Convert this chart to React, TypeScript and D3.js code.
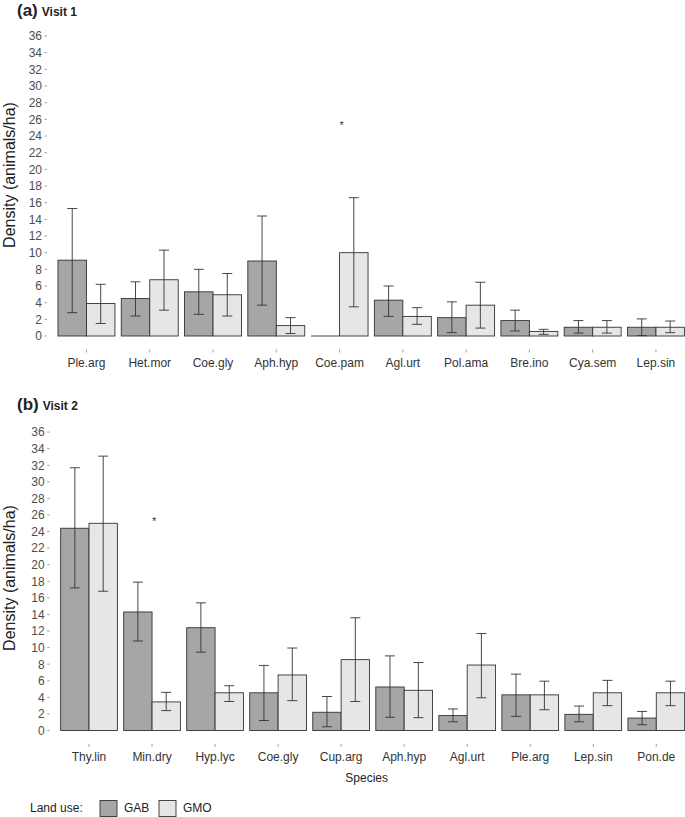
import React from "react";
import * as d3 from "d3";

const landUse = ["GAB", "GMO"];
const fills = ["#a6a6a6", "#e6e6e6"];
const yTicks = [0, 2, 4, 6, 8, 10, 12, 14, 16, 18, 20, 22, 24, 26, 28, 30, 32, 34, 36];

// Visit 1
const cats1 = ["Ple.arg", "Het.mor", "Coe.gly", "Aph.hyp", "Coe.pam", "Agl.urt", "Pol.ama", "Bre.ino", "Cya.sem", "Lep.sin"];
const gab1 = [9.1, 4.5, 5.3, 9.0, 0, 4.3, 2.2, 1.85, 1.05, 1.05];
const gab1Hi = [15.3, 6.5, 8.0, 14.4, null, 6.0, 4.1, 3.1, 1.85, 2.05];
const gab1Lo = [2.8, 2.4, 2.6, 3.7, null, 2.35, 0.4, 0.6, 0.35, 0.05];
const gmo1 = [3.9, 6.75, 4.95, 1.25, 10.0, 2.35, 3.7, 0.55, 1.05, 1.05];
const gmo1Hi = [6.2, 10.3, 7.5, 2.2, 16.6, 3.4, 6.45, 0.8, 1.85, 1.8];
const gmo1Lo = [1.5, 3.1, 2.4, 0.3, 3.5, 1.4, 0.95, 0.2, 0.35, 0.4];
const star1 = [{ cat: "Coe.pam", value: 25.6 }];

// Visit 2
const cats2 = ["Thy.lin", "Min.dry", "Hyp.lyc", "Coe.gly", "Cup.arg", "Aph.hyp", "Agl.urt", "Ple.arg", "Lep.sin", "Pon.de"];
const gab2 = [24.4, 14.3, 12.4, 4.55, 2.2, 5.25, 1.8, 4.3, 1.95, 1.5];
const gab2Hi = [31.7, 17.9, 15.4, 7.85, 4.1, 9.0, 2.6, 6.8, 2.95, 2.3];
const gab2Lo = [17.2, 10.8, 9.45, 1.2, 0.45, 1.6, 1.05, 1.7, 1.05, 0.7];
const gmo2 = [25.0, 3.45, 4.55, 6.7, 8.55, 4.85, 7.9, 4.3, 4.55, 4.55];
const gmo2Hi = [33.1, 4.6, 5.4, 9.95, 13.6, 8.2, 11.7, 5.95, 6.05, 5.95];
const gmo2Lo = [16.8, 2.4, 3.5, 3.6, 3.5, 1.55, 3.95, 2.5, 3.0, 3.0];
const star2 = [{ cat: "Min.dry", value: 25.5 }];

type PanelProps = {
  cats: string[];
  vals: number[][];
  his: (number | null)[][];
  los: (number | null)[][];
  stars: { cat: string; value: number }[];
  left: number;
  right: number;
  y0: number;
  y36: number;
  tag: string;
  sub: string;
  tagY: number;
  titleY: number;
  xTitle?: string;
};

function Panel(p: PanelProps) {
  const x = d3.scaleBand<string>().domain(p.cats).range([p.left, p.right]).paddingInner(0.1).paddingOuter(0.15);
  const sub = d3.scaleBand<string>().domain(landUse).range([0, x.bandwidth()]);
  const y = d3.scaleLinear().domain([0, 36]).range([p.y0, p.y36]);
  const bottom = y(-1.8);
  const bw = sub.bandwidth();
  const cap = 5;
  const axisX = p.left - 0.5;
  return (
    <g>
      <text x={17} y={p.tagY} fontFamily="Liberation Sans, Arial, sans-serif" fontWeight="bold" fontSize={17} fill="#222">
        {p.tag}
        <tspan fontSize={12} dx={4}>{p.sub}</tspan>
      </text>
      <text
        transform={`translate(15,${p.titleY}) rotate(-90)`}
        textAnchor="middle"
        fontFamily="Liberation Sans, Arial, sans-serif"
        fontSize={16}
        fill="#222"
      >
        Density (animals/ha)
      </text>
      {yTicks.map((t) => (
        <g key={t}>
          <line x1={axisX - 3.5} x2={axisX - 1} y1={y(t)} y2={y(t)} stroke="#888" strokeWidth={0.8} />
          <text x={axisX - 6} y={y(t)} dy="0.36em" textAnchor="end" fontFamily="Liberation Sans, Arial, sans-serif" fontSize={12} fill="#4d4d4d">
            {t}
          </text>
        </g>
      ))}
      {p.cats.map((c, i) => {
        const cx = (x(c) as number) + x.bandwidth() / 2;
        return (
          <g key={c}>
            <line x1={cx} x2={cx} y1={bottom - 1.5} y2={bottom + 1.5} stroke="#888" strokeWidth={0.8} />
            <text x={cx} y={bottom + 16} textAnchor="middle" fontFamily="Liberation Sans, Arial, sans-serif" fontSize={12} fill="#333">
              {c}
            </text>
            {landUse.map((lu, k) => {
              const bx = (x(c) as number) + (sub(lu) as number);
              const v = p.vals[k][i];
              const top = y(v);
              const hi = p.his[k][i];
              const lo = p.los[k][i];
              const mx = bx + bw / 2;
              return (
                <g key={lu}>
                  {v > 0 ? (
                    <rect x={bx} y={top} width={bw} height={y(0) - top} fill={fills[k]} stroke="#333" strokeWidth={0.9} />
                  ) : (
                    <line x1={bx} x2={bx + bw} y1={y(0)} y2={y(0)} stroke="#333" strokeWidth={0.9} />
                  )}
                  {hi !== null && lo !== null ? (
                    <g stroke="#333" strokeWidth={0.9}>
                      <line x1={mx} x2={mx} y1={y(hi)} y2={y(lo)} />
                      <line x1={mx - cap} x2={mx + cap} y1={y(hi)} y2={y(hi)} />
                      <line x1={mx - cap} x2={mx + cap} y1={y(lo)} y2={y(lo)} />
                    </g>
                  ) : null}
                </g>
              );
            })}
          </g>
        );
      })}
      {p.stars.map((s) => {
        const cx = (x(s.cat) as number) + x.bandwidth() / 2 + 2;
        return (
          <text key={s.cat} x={cx} y={y(s.value) + 6} textAnchor="middle" fontFamily="Liberation Sans, Arial, sans-serif" fontSize={11} fill="#333">
            *
          </text>
        );
      })}
      {p.xTitle ? (
        <text x={(p.left + p.right) / 2 - 6} y={bottom + 37} textAnchor="middle" fontFamily="Liberation Sans, Arial, sans-serif" fontSize={12} fill="#222">
          {p.xTitle}
        </text>
      ) : null}
    </g>
  );
}

export default function App() {
  return (
    <svg width={685} height={817} style={{ position: "absolute", left: 0, top: 0, background: "#fff" }}>
      <rect width={685} height={817} fill="#fff" />
      <Panel
        cats={cats1}
        vals={[gab1, gmo1]}
        his={[gab1Hi, gmo1Hi]}
        los={[gab1Lo, gmo1Lo]}
        stars={star1}
        left={48.5}
        right={693.9}
        y0={336}
        y36={36}
        tag="(a)"
        sub="Visit 1"
        tagY={16}
        titleY={175}
      />
      <Panel
        cats={cats2}
        vals={[gab2, gmo2]}
        his={[gab2Hi, gmo2Hi]}
        los={[gab2Lo, gmo2Lo]}
        stars={star2}
        left={51.2}
        right={694.1}
        y0={730.5}
        y36={432.1}
        tag="(b)"
        sub="Visit 2"
        tagY={410}
        titleY={578}
        xTitle="Species"
      />
      <g fontFamily="Liberation Sans, Arial, sans-serif" fontSize={12} fill="#222">
        <text x={30} y={812}>Land use:</text>
        {landUse.map((lu, k) => {
          const bx = [100, 159][k];
          return (
            <g key={lu}>
              <rect x={bx} y={800.5} width={17} height={16} fill={fills[k]} stroke="#333" strokeWidth={0.9} />
              <text x={bx + 24} y={812}>{lu}</text>
            </g>
          );
        })}
      </g>
    </svg>
  );
}
